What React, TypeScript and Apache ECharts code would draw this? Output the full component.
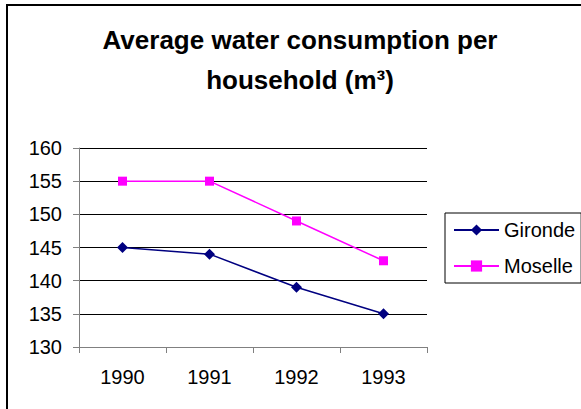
import React, { useEffect, useRef } from "react";
import * as echarts from "echarts";

const years = ["1990", "1991", "1992", "1993"];
const gironde = [145, 144, 139, 135];
const moselle = [155, 155, 149, 143];
const seriesNames = ["Gironde", "Moselle"];
const titleText = "Average water consumption per\nhousehold (m³)";

const FONT = "'Liberation Sans', Arial, sans-serif";

export default function App() {
  const ref = useRef<HTMLDivElement>(null);
  useEffect(() => {
    document.body.style.margin = "0";
    const chart = echarts.init(ref.current!, null, { renderer: "svg" });
    chart.setOption({
      animation: false,
      backgroundColor: "#ffffff",
      textStyle: { fontFamily: FONT },
      graphic: [
        {
          type: "rect",
          shape: { x: 7, y: 5, width: 700, height: 500 },
          style: { fill: "none", stroke: "#000", lineWidth: 2 },
          silent: true,
        },
        {
          type: "text",
          x: 300,
          y: 20,
          style: {
            text: titleText,
            font: `bold 26px ${FONT}`,
            fill: "#000",
            textAlign: "center",
            textVerticalAlign: "top",
            lineHeight: 40,
          },
        },
      ],
      grid: { left: 79, top: 148, right: 154, bottom: 62 },
      legend: {
        orient: "vertical",
        left: 445,
        top: 213,
        data: seriesNames,
        borderColor: "#000",
        borderWidth: 1,
        padding: [7, 6, 7, 8],
        itemWidth: 45,
        itemHeight: 14,
        itemGap: 16,
        textStyle: { fontSize: 20, color: "#000", fontFamily: FONT, lineHeight: 20 },
      },
      xAxis: {
        type: "category",
        data: years,
        boundaryGap: true,
        axisLine: { lineStyle: { color: "#808080", width: 1 } },
        axisTick: { show: true, interval: 0, length: 6, lineStyle: { color: "#808080" } },
        axisLabel: { fontSize: 20, color: "#000", margin: 20, fontFamily: FONT },
      },
      yAxis: {
        type: "value",
        min: 130,
        max: 160,
        interval: 5,
        axisLine: { show: true, lineStyle: { color: "#808080", width: 1 } },
        axisTick: { show: true, length: 6, lineStyle: { color: "#808080" } },
        axisLabel: { fontSize: 20, color: "#000", margin: 17, fontFamily: FONT },
        splitLine: { lineStyle: { color: "#000", width: 1 } },
      },
      series: [
        {
          name: seriesNames[0],
          type: "line",
          data: gironde,
          symbol: "diamond",
          symbolSize: 11,
          lineStyle: { color: "#000080", width: 1.5 },
          itemStyle: { color: "#000080" },
        },
        {
          name: seriesNames[1],
          type: "line",
          data: moselle,
          symbol: "rect",
          symbolSize: 9,
          lineStyle: { color: "#ff00ff", width: 1.5 },
          itemStyle: { color: "#ff00ff" },
        },
      ],
    });
    return () => chart.dispose();
  }, []);
  return (
    <div
      ref={ref}
      style={{ position: "absolute", left: 0, top: 0, width: 581, height: 409 }}
    />
  );
}
